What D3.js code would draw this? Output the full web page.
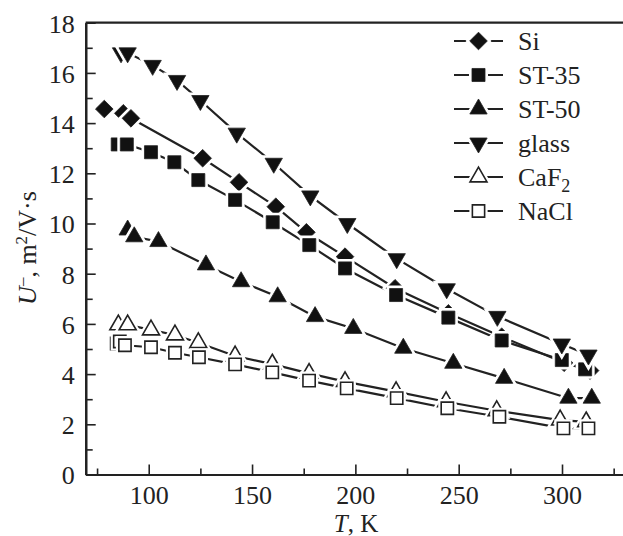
<!DOCTYPE html>
<html>
<head>
<meta charset="utf-8">
<script src="https://cdn.jsdelivr.net/npm/d3@7"></script>
<style>
  body { margin: 0; background: #fff; }
  text { font-family: "Liberation Serif", "Times New Roman", serif; fill: #222; }
</style>
</head>
<body>
<div id="chart"></div>
<script>
// values
const siT = [78.5, 87.7, 91.4, 126.1, 143.7, 161.5, 176.3, 195, 219.2, 245, 270.8, 301, 313.6];
const siU = [14.56, 14.39, 14.19, 12.6, 11.64, 10.67, 9.65, 8.68, 7.42, 6.42, 5.49, 4.45, 4.14];
const st35T = [85, 89.4, 101.1, 112.4, 124, 141.8, 160, 177.7, 195, 219.7, 245, 270.8, 299.9, 311.2];
const st35U = [13.15, 13.15, 12.84, 12.44, 11.73, 10.94, 10.05, 9.14, 8.21, 7.15, 6.25, 5.34, 4.56, 4.19];
const st50T = [89.8, 93, 104.7, 127.7, 144.7, 162.4, 180.5, 199, 223.2, 247.4, 272, 303.1, 314.4];
const st50U = [9.74, 9.47, 9.28, 8.35, 7.68, 7.08, 6.29, 5.82, 5.03, 4.43, 3.83, 3.04, 3.04];
const glassT = [86.6, 89.8, 101.9, 113.7, 125, 142.6, 160.5, 178.2, 196.1, 220, 244.2, 268.7, 299.9, 312.8];
const glassU = [16.8, 16.8, 16.3, 15.7, 14.9, 13.6, 12.4, 11.1, 10.0, 8.6, 7.4, 6.3, 5.2, 4.76];
const caf2T = [85.3, 89.8, 101.1, 112.7, 124, 141.8, 159.8, 177.6, 195, 219.7, 243.9, 268.4, 299.1, 311.7];
const caf2U = [5.96, 5.96, 5.76, 5.56, 5.25, 4.72, 4.40, 4.03, 3.70, 3.30, 2.90, 2.54, 2.17, 2.10];
const naclT = [84.5, 86, 88.5, 101.1, 112.7, 124.3, 141.8, 159.8, 177.6, 195.8, 220, 244.5, 269.7, 300.7, 312.8];
const naclU = [5.22, 5.3, 5.15, 5.07, 4.85, 4.67, 4.39, 4.07, 3.74, 3.43, 3.04, 2.64, 2.30, 1.84, 1.84];

const seriesNames = ["Si", "ST-35", "ST-50", "glass", "CaF2", "NaCl"];
const xMajor = [100, 150, 200, 250, 300];
const xMinor = [75, 125, 175, 225, 275, 325];
const yMajor = [0, 2, 4, 6, 8, 10, 12, 14, 16, 18];
const yMinor = [1, 3, 5, 7, 9, 11, 13, 15, 17];

const width = 623, height = 536;
const plotLeft = 85.7, plotTop = 22.7, plotBottom = 474.5;

const x = d3.scaleLinear().domain([69.5, 330]).range([plotLeft, 624]);
const y = d3.scaleLinear().domain([0, 18]).range([plotBottom, plotTop]);

const svg = d3.select("#chart").append("svg")
    .attr("width", width)
    .attr("height", height);

const series = [
    {name: seriesNames[0], T: siT, U: siU, shape: "diamond", filled: true},
    {name: seriesNames[1], T: st35T, U: st35U, shape: "square", filled: true},
    {name: seriesNames[2], T: st50T, U: st50U, shape: "up", filled: true},
    {name: seriesNames[3], T: glassT, U: glassU, shape: "down", filled: true},
    {name: seriesNames[4], T: caf2T, U: caf2U, shape: "up", filled: false},
    {name: seriesNames[5], T: naclT, U: naclU, shape: "square", filled: false}
];

function markerPath(shape, filled) {
    if (shape === "diamond") return d3.symbol(d3.symbolSquare, 155)();
    if (shape === "square") return d3.symbol(d3.symbolSquare, filled ? 170 : 150)();
    return d3.symbol(d3.symbolTriangle, filled ? 130 : 125)();
}
function markerRot(shape) {
    if (shape === "diamond") return 45;
    if (shape === "down") return 180;
    return 0;
}

// axes (ticks point inward)
const axisStyle = g => {
    g.select(".domain").attr("stroke", "#222").attr("stroke-width", 2.2);
    g.selectAll(".tick line").attr("stroke", "#222").attr("stroke-width", 1.6);
    g.selectAll(".tick text").style("font-size", "26px").attr("fill", "#222");
};

svg.append("g")
    .attr("transform", "translate(0," + plotBottom + ")")
    .call(d3.axisBottom(x).tickValues(xMinor).tickFormat("").tickSizeInner(-6).tickSizeOuter(0))
    .call(axisStyle);
svg.append("g")
    .attr("transform", "translate(0," + plotBottom + ")")
    .call(d3.axisBottom(x).tickValues(xMajor).tickFormat(d3.format("d")).tickSizeInner(-10).tickSizeOuter(0).tickPadding(11))
    .call(axisStyle);

svg.append("g")
    .attr("transform", "translate(" + plotLeft + ",0)")
    .call(d3.axisLeft(y).tickValues(yMinor).tickFormat("").tickSizeInner(-7).tickSizeOuter(0))
    .call(axisStyle);
svg.append("g")
    .attr("transform", "translate(" + plotLeft + ",0)")
    .call(d3.axisLeft(y).tickValues(yMajor).tickFormat(d3.format("d")).tickSizeInner(-10).tickSizeOuter(0).tickPadding(11))
    .call(axisStyle)
    .selectAll(".tick text").attr("dy", "0.36em");

// top frame line
svg.append("line")
    .attr("x1", plotLeft).attr("x2", width)
    .attr("y1", plotTop).attr("y2", plotTop)
    .attr("stroke", "#222").attr("stroke-width", 2.2);

// axis titles
const xt = svg.append("text")
    .attr("x", 356).attr("y", 532)
    .attr("text-anchor", "middle")
    .style("font-size", "25px");
xt.append("tspan").style("font-style", "italic").text("T");
xt.append("tspan").text(", K");

const yt = svg.append("text")
    .attr("transform", "translate(36,248) rotate(-90)")
    .attr("text-anchor", "middle")
    .style("font-size", "26px");
yt.append("tspan").style("font-style", "italic").text("U");
yt.append("tspan").attr("baseline-shift", "super").style("font-size", "17px").text("\u2013");
yt.append("tspan").text(", m");
yt.append("tspan").attr("baseline-shift", "super").style("font-size", "17px").text("2");
yt.append("tspan").text("/V\u00b7s");

// lines
const line = d3.line().x(d => x(d[0])).y(d => y(d[1]));
series.forEach(s => {
    const pts = s.T.map((t, i) => [t, s.U[i]]);
    svg.append("path")
        .datum(pts)
        .attr("d", line)
        .attr("fill", "none")
        .attr("stroke", "#222")
        .attr("stroke-width", 2.2);
});

// markers with a white halo so lines stop short of them
function drawMarker(g, cx, cy, s) {
    const tr = "translate(" + cx + "," + cy + ") rotate(" + markerRot(s.shape) + ")";
    g.append("path")
        .attr("d", markerPath(s.shape, s.filled))
        .attr("transform", tr)
        .attr("fill", "#fff")
        .attr("stroke", "#fff")
        .attr("stroke-width", 6);
    g.append("path")
        .attr("d", markerPath(s.shape, s.filled))
        .attr("transform", tr)
        .attr("fill", s.filled ? "#111" : "#fff")
        .attr("stroke", "#222")
        .attr("stroke-width", s.filled ? 0.8 : 1.6);
}

series.forEach(s => {
    const g = svg.append("g");
    s.T.forEach((t, i) => drawMarker(g, x(t), y(s.U[i]), s));
});

// legend
const legend = svg.append("g");
series.forEach((s, i) => {
    const ly = 41 + i * 34;
    legend.append("line")
        .attr("x1", 454).attr("x2", 503)
        .attr("y1", ly).attr("y2", ly)
        .attr("stroke", "#222").attr("stroke-width", 2.2);
    drawMarker(legend, 478.5, ly, s);
    const t = legend.append("text")
        .attr("x", 518).attr("y", ly + 8.5)
        .style("font-size", "26px");
    if (s.name === "CaF2") {
        t.append("tspan").text("CaF");
        t.append("tspan").attr("dy", 6).style("font-size", "18px").text("2");
    } else {
        t.text(s.name);
    }
});
</script>
</body>
</html>
